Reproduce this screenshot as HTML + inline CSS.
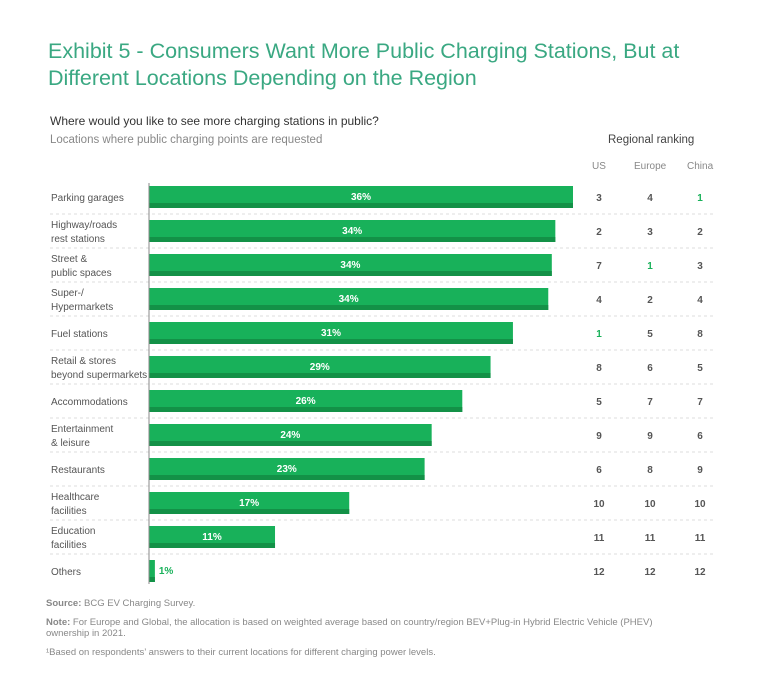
<!DOCTYPE html>
<html><head><meta charset="utf-8"><style>
body{margin:0;width:768px;height:688px;background:#fff;font-family:"Liberation Sans",sans-serif;position:relative;overflow:hidden}
.t{position:absolute;white-space:nowrap}
</style></head><body>
<div class="t" style="left:48px;top:38px;font-size:21.5px;line-height:27px;color:#3aa882">Exhibit 5 - Consumers Want More Public Charging Stations, But at<br>Different Locations Depending on the Region</div>
<div class="t" style="left:50px;top:114px;font-size:12px;color:#333">Where would you like to see more charging stations in public?</div>
<div class="t" style="left:50px;top:134px;font-size:11.5px;color:#888">Locations where public charging points are requested</div>
<div class="t" style="left:608px;top:134px;font-size:11.5px;color:#444">Regional ranking</div>
<div class="t" style="left:592px;top:161px;font-size:10px;color:#888">US</div>
<div class="t" style="left:634px;top:161px;font-size:10px;color:#888">Europe</div>
<div class="t" style="left:687px;top:161px;font-size:10px;color:#888">China</div>
<svg id="chart" width="768" height="688" style="position:absolute;left:0;top:0"></svg>
<div class="t" style="left:46px;top:598px;font-size:9.5px;color:#888"><b>Source:</b> BCG EV Charging Survey.</div>
<div class="t" style="left:46px;top:617px;font-size:9.5px;line-height:11px;color:#888"><b>Note:</b> For Europe and Global, the allocation is based on weighted average based on country/region BEV+Plug-in Hybrid Electric Vehicle (PHEV)<br>ownership in 2021.</div>
<div class="t" style="left:46px;top:647px;font-size:9.5px;color:#888">¹Based on respondents’ answers to their current locations for different charging power levels.</div>
<script>
const categories=["Parking garages","Highway/roads|rest stations","Street &|public spaces","Super-/|Hypermarkets","Fuel stations","Retail & stores|beyond supermarkets","Accommodations","Entertainment|& leisure","Restaurants","Healthcare|facilities","Education|facilities","Others"];
const values=[36.0,34.5,34.2,33.9,30.9,29.0,26.6,24.0,23.4,17.0,10.7,0.5];
const labels=["36%","34%","34%","34%","31%","29%","26%","24%","23%","17%","11%","1%"];
const usRank=[3,2,7,4,1,8,5,9,6,10,11,12];
const euRank=[4,3,1,2,5,6,7,9,8,10,11,12];
const cnRank=[1,2,3,4,8,5,7,6,9,10,11,12];
const svg=document.getElementById('chart');const NS='http://www.w3.org/2000/svg';
const x0=149,scale=424/36,top0=180,step=34;
const xs=v=>x0+v*scale, yc=i=>top0+17+i*step;
function mk(tag,a){const e=document.createElementNS(NS,tag);for(const k in a)e.setAttribute(k,a[k]);svg.appendChild(e);return e;}
categories.forEach((c,i)=>{
 const y=yc(i);
 if(i<categories.length-1){const l=mk('line',{x1:50,x2:715,y1:y+17,y2:y+17,stroke:'#ddd','stroke-dasharray':'3,3'});
 }
 const parts=c.split('|');
 const t=mk('text',{x:51,'font-size':10,fill:'#555'});
 
 parts.forEach((p,j)=>{const s=document.createElementNS(NS,'tspan');s.setAttribute('x',51);s.setAttribute('y',parts.length==1?y+4:y-3+j*14);s.textContent=p;t.appendChild(s);});
 const w=xs(values[i])-x0;
 const b=mk('rect',{x:x0,y:y-11,width:w,height:22,fill:'#18b15a'});
 
 const d=mk('rect',{x:x0,y:y+6,width:w,height:5,fill:'#139147'});
 
 const inside=w>40;
 const lt=mk('text',{x:inside?x0+w/2:xs(values[i])+4,y:y+3,'font-size':10,'font-weight':'bold',fill:inside?'#fff':'#18b15a','text-anchor':inside?'middle':'start'});
 lt.textContent=labels[i];
 [[599,usRank],[650,euRank],[700,cnRank]].forEach(([cx,arr])=>{
  const r=mk('text',{x:cx,y:y+4,'font-size':10,'font-weight':'bold',fill:arr[i]==1?'#18b15a':'#555','text-anchor':'middle'});
  r.textContent=arr[i];
 });
});
const ax=mk('line',{x1:x0,x2:x0,y1:top0+3,y2:yc(categories.length-1)+13,stroke:'#888','stroke-width':1});

</script>
</body></html>
